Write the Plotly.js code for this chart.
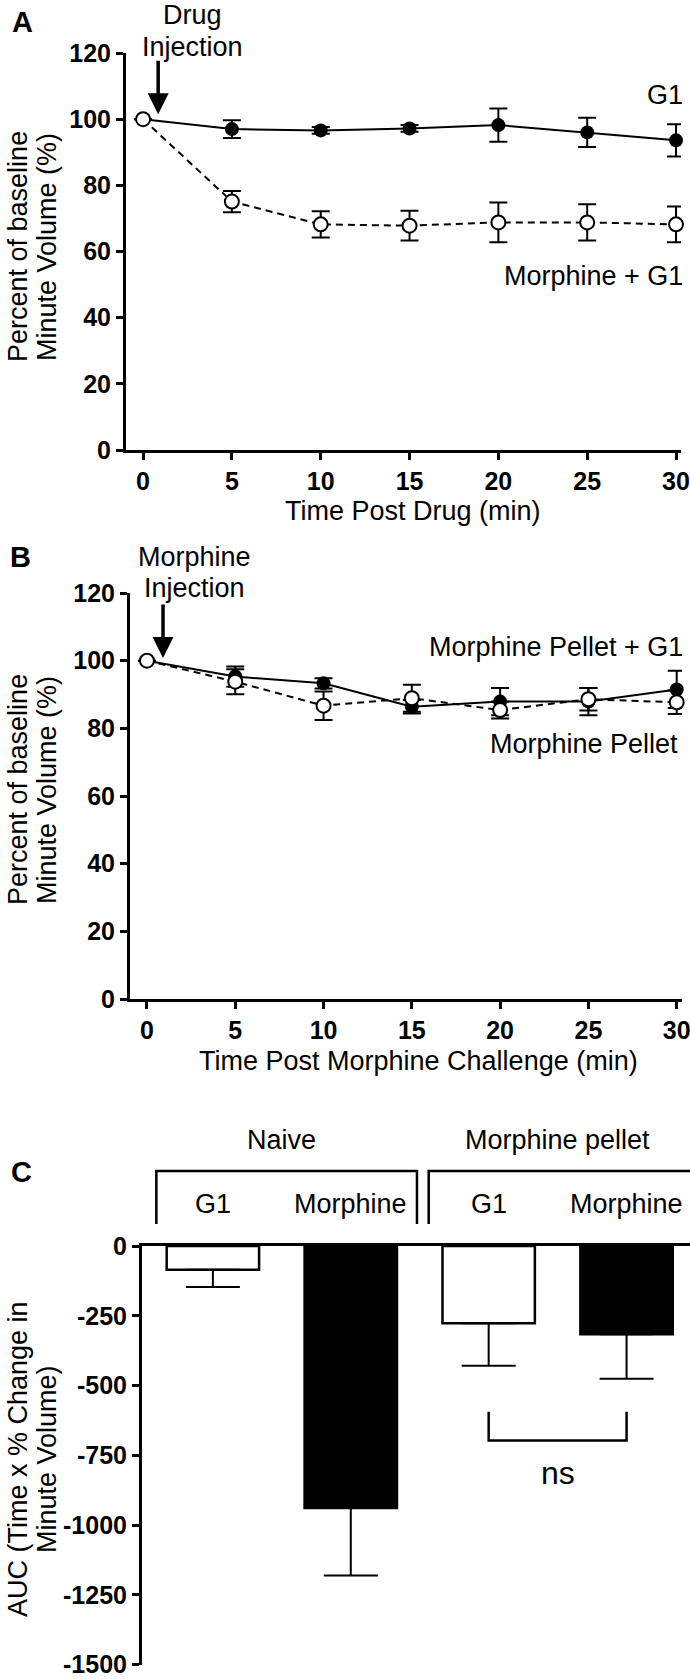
<!DOCTYPE html>
<html>
<head>
<meta charset="utf-8">
<script src="https://cdn.plot.ly/plotly-3.0.1.min.js"></script>
<style>
  body { margin: 0; background: white; }
  #chart { width: 690px; height: 1679px; }
</style>
</head>
<body>
<div id="chart"></div>
<script>
// panel A - naive mice, minute volume after drug injection
const timeA = [0, 5, 10, 15, 20, 25, 30];
const g1Mean = [100, 97, 96.6, 97.2, 98.2, 96, 93.6];
const g1Sem = [0, 2.7, 1, 1, 5, 4.4, 4.9];
const morphG1Mean = [100, 75.1, 68.2, 67.8, 68.8, 68.8, 68.2];
const morphG1Sem = [0, 3.2, 4, 4.5, 6, 5.5, 5.4];

// panel B - morphine pellet mice, morphine challenge
const timeB = [0, 5, 10, 15, 20, 25, 30];
const pelletG1Mean = [100, 95.3, 93.3, 86.4, 87.9, 87.9, 91.5];
const pelletG1Sem = [0, 3, 1.5, 2, 4, 4, 5.5];
const pelletMean = [100, 93.8, 86.7, 88.9, 85.4, 88.6, 87.7];
const pelletSem = [0, 3.7, 4.2, 4, 2.5, 3.3, 3.5];

// panel C - AUC
const cGroups = ['Naive', 'Morphine pellet'];
const cLabels = ['G1', 'Morphine', 'G1', 'Morphine'];
const cValues = [-85, -939, -277, -316];
const cErrors = [62, 241, 152, 160];
const cTicks = [0, -250, -500, -750, -1000, -1250, -1500];

const W = 690, H = 1679;
const FONT = 'Liberation Sans, Arial, sans-serif';
const px = v => v / W;
const py = v => 1 - v / H;

const axisStyle = {
  showline: true, linecolor: 'black', linewidth: 3,
  ticks: 'outside', ticklen: 7, tickwidth: 3, tickcolor: 'black',
  showgrid: false, zeroline: false, ticklabeloverflow: 'allow',
  tickfont: {family: FONT, size: 25, color: 'black', weight: 'bold'}
};

const errStyle = {type: 'data', visible: true, color: 'black', thickness: 2, width: 9};

const cPos = cLabels.map((d, i) => i);

var data = [
  {
    x: timeA, y: g1Mean, xaxis: 'x', yaxis: 'y',
    error_y: Object.assign({array: g1Sem}, errStyle),
    mode: 'lines+markers', cliponaxis: false,
    line: {color: 'black', width: 2},
    marker: {symbol: 'circle', size: 14, color: 'black'}
  },
  {
    x: timeA, y: morphG1Mean, xaxis: 'x', yaxis: 'y',
    error_y: Object.assign({array: morphG1Sem}, errStyle),
    mode: 'lines+markers', cliponaxis: false,
    line: {color: 'black', width: 2, dash: '7px,5px'},
    marker: {symbol: 'circle', size: 14, color: 'white', line: {color: 'black', width: 2}}
  },
  {
    x: timeB, y: pelletG1Mean, xaxis: 'x2', yaxis: 'y2',
    error_y: Object.assign({array: pelletG1Sem}, errStyle),
    mode: 'lines+markers', cliponaxis: false,
    line: {color: 'black', width: 2},
    marker: {symbol: 'circle', size: 14, color: 'black'}
  },
  {
    x: timeB, y: pelletMean, xaxis: 'x2', yaxis: 'y2',
    error_y: Object.assign({array: pelletSem}, errStyle),
    mode: 'lines+markers', cliponaxis: false,
    line: {color: 'black', width: 2, dash: '7px,5px'},
    marker: {symbol: 'circle', size: 14, color: 'white', line: {color: 'black', width: 2}}
  },
  {
    type: 'bar', x: cPos, y: cValues, xaxis: 'x3', yaxis: 'y3',
    width: 0.67, cliponaxis: false,
    marker: {color: cPos.map(i => i % 2 ? 'black' : 'white'), line: {color: 'black', width: 2.5}},
    error_y: {type: 'data', symmetric: false, array: cValues.map(() => 0), arrayminus: cErrors,
      visible: true, color: 'black', thickness: 2, width: 27}
  }
];

function txt(text, x, y, opts) {
  return Object.assign({
    text: text, x: x, y: y, xref: 'paper', yref: 'paper', showarrow: false,
    xanchor: 'center', yanchor: 'middle',
    font: {family: FONT, size: 27, color: 'black'}
  }, opts || {});
}
const letterFont = {family: FONT, size: 29, color: 'black', weight: 'bold'};

var annotations = [
  // panel letters
  txt('A', px(22), py(22), {font: letterFont}),
  txt('B', px(20), py(557), {font: letterFont}),
  txt('C', px(21), py(1172), {font: letterFont}),
  // panel A
  txt('Drug', px(192), py(15)),
  txt('Injection', px(192), py(47)),
  {x: 0.85, y: 101.5, xref: 'x', yref: 'y', text: '', showarrow: true, ax: 0, ay: -55,
    arrowhead: 2, arrowsize: 1.2, arrowwidth: 3.5, arrowcolor: 'black'},
  txt('G1', px(685), py(95), {xanchor: 'right'}),
  txt('Morphine + G1', px(685), py(276), {xanchor: 'right'}),
  txt('Percent of baseline', px(18), py(247), {textangle: -90}),
  txt('Minute Volume (%)', px(47), py(247), {textangle: -90}),
  txt('Time Post Drug (min)', px(413), py(511)),
  // panel B
  txt('Morphine', px(194), py(557)),
  txt('Injection', px(194), py(588)),
  {x: 0.91, y: 100.8, xref: 'x2', yref: 'y2', text: '', showarrow: true, ax: 0, ay: -55,
    arrowhead: 2, arrowsize: 1.2, arrowwidth: 3.5, arrowcolor: 'black'},
  txt('Morphine Pellet + G1', px(685), py(647), {xanchor: 'right'}),
  txt('Morphine Pellet', px(680), py(744), {xanchor: 'right'}),
  txt('Percent of baseline', px(18), py(790), {textangle: -90}),
  txt('Minute Volume (%)', px(47), py(790), {textangle: -90}),
  txt('Time Post Morphine Challenge (min)', px(418), py(1061)),
  // panel C
  txt('AUC (Time x % Change in', px(18), py(1459), {textangle: -90}),
  txt('Minute Volume)', px(47), py(1459), {textangle: -90}),
  txt('ns', 2.5, -814, {xref: 'x3', yref: 'y3', font: {family: FONT, size: 32, color: 'black'}})
];

cGroups.forEach((g, i) => {
  annotations.push(txt(g, 2 * i + 0.5, py(1140), {xref: 'x3'}));
});
cLabels.forEach((l, i) => {
  annotations.push(txt(l, i, py(1204), {xref: 'x3'}));
});

var shapes = [
  {type: 'path', xref: 'x3', yref: 'paper',
    path: 'M -0.41,' + py(1224) + ' V ' + py(1171) + ' H 1.48 V ' + py(1224),
    line: {color: 'black', width: 2.5}},
  {type: 'path', xref: 'x3', yref: 'paper',
    path: 'M 1.565,' + py(1224) + ' V ' + py(1171) + ' H 3.48 V ' + py(1224),
    line: {color: 'black', width: 2.5}},
  {type: 'path', xref: 'x3', yref: 'y3',
    path: 'M 2,-594 V -697 H 3 V -594',
    line: {color: 'black', width: 2.5}}
];

var layout = {
  width: W, height: H,
  margin: {l: 0, r: 0, t: 0, b: 0},
  paper_bgcolor: 'white', plot_bgcolor: 'white',
  showlegend: false,
  font: {family: FONT, color: 'black'},
  xaxis: Object.assign({}, axisStyle, {domain: [px(126), px(681)], range: [-0.96, 30.28], anchor: 'y', dtick: 5, tick0: 0}),
  yaxis: Object.assign({}, axisStyle, {domain: [py(450), py(53)], range: [0, 120], anchor: 'x', dtick: 20, tick0: 0}),
  xaxis2: Object.assign({}, axisStyle, {domain: [px(130), px(682)], range: [-0.96, 30.3], anchor: 'y2', dtick: 5, tick0: 0}),
  yaxis2: Object.assign({}, axisStyle, {domain: [py(999), py(593)], range: [0, 120], anchor: 'x2', dtick: 20, tick0: 0}),
  xaxis3: Object.assign({}, axisStyle, {domain: [px(142), 1], range: [-0.514, 3.46], anchor: 'y3',
    side: 'top', ticks: '', showticklabels: false}),
  yaxis3: Object.assign({}, axisStyle, {domain: [py(1665), py(1246)], range: [-1501, 0], anchor: 'x3',
    tickvals: cTicks, ticktext: cTicks.map(String)}),
  annotations: annotations,
  shapes: shapes
};

Plotly.newPlot('chart', data, layout, {displayModeBar: false, staticPlot: true});
</script>
</body>
</html>
